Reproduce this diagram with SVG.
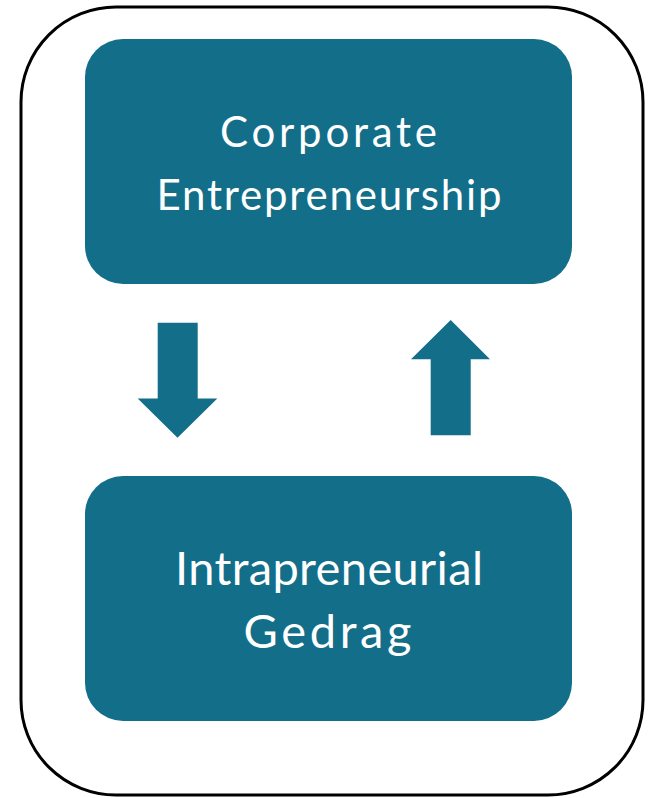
<svg xmlns="http://www.w3.org/2000/svg" width="652" height="798" viewBox="0 0 652 798">
  <style>
    .box { fill: #126E89; }
    .arrow { fill: #126E89; }
    .label { fill: #FFFFFF; font-family: Lato, "Noto Sans", "Liberation Sans", sans-serif; text-anchor: middle; }
    .top { font-size: 42px; }
    .bottom { font-size: 47px; }
  </style>
  <rect width="652" height="798" fill="#FFFFFF"/>
  <!-- outer frame -->
  <rect id="frame" x="21" y="7" width="622" height="788" rx="95" ry="95" fill="none" stroke="#000000" stroke-width="3"/>

  <g id="corporate-entrepreneurship">
    <rect class="box" x="85" y="39" width="487" height="245" rx="38" ry="38"/>
    <text class="label top" x="328.5" y="147" textLength="217" lengthAdjust="spacing">Corporate</text>
    <text class="label top" x="329" y="210" textLength="345" lengthAdjust="spacing">Entrepreneurship</text>
  </g>

  <g id="intrapreneurial-gedrag">
    <rect class="box" x="85" y="476" width="487" height="245" rx="38" ry="38"/>
    <text class="label bottom" x="329" y="585" textLength="308" lengthAdjust="spacing">Intrapreneurial</text>
    <text class="label bottom" x="327.5" y="648" textLength="168" lengthAdjust="spacing">Gedrag</text>
  </g>

  <g id="connectors">
    <!-- downward block arrow -->
    <polygon class="arrow" points="157.7,322.7 197.7,322.7 197.7,398.5 217.3,398.5 177.5,437.7 137.7,398.5 157.7,398.5"/>
    <!-- upward block arrow -->
    <polygon class="arrow" points="450.7,320 490,359.3 470.7,359.3 470.7,435.3 430.7,435.3 430.7,359.3 411,359.3"/>
  </g>
</svg>
